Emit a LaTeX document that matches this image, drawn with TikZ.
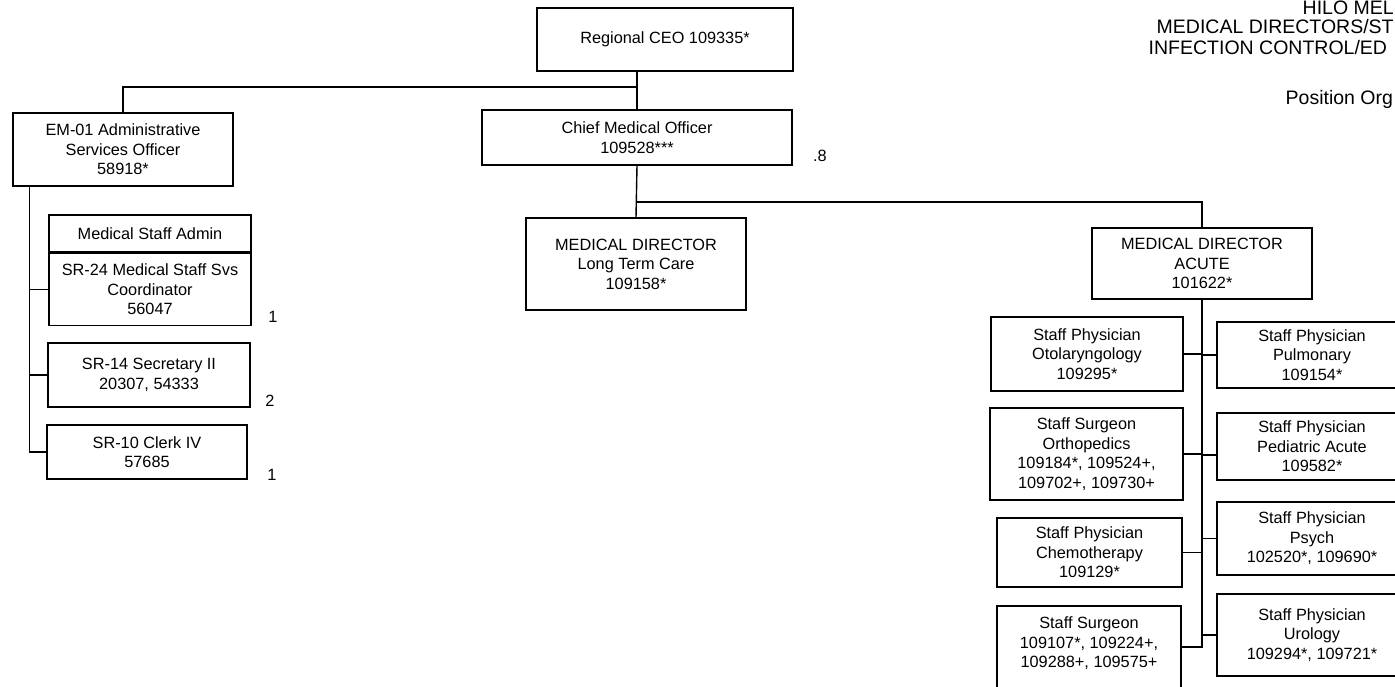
\documentclass[tikz,border=0pt]{standalone}
\usepackage{fontspec}
\setmainfont{Liberation Sans}
\usetikzlibrary{positioning,calc}

\begin{document}
\begin{tikzpicture}[x=1pt,y=-1pt,line width=1.4pt,
  box/.style={draw,align=center,inner sep=2pt,font=\fontsize{16.3}{19.5}\selectfont},
  staff/.style={box,minimum width=190pt},
  note/.style={inner sep=0pt,font=\fontsize{16.3}{19.5}\selectfont},
  head/.style={anchor=west,inner sep=0pt,font=\fontsize{19.5}{22}\selectfont}]
\useasboundingbox (0,0) rectangle (1395,687);
\clip (0,0) rectangle (1395,687);

\node[head] (title1) at (1302,8) {HILO MEL};
\node[head] (title2) at (1156,27) {MEDICAL DIRECTORS/ST};
\node[head] (title3) at (1148,48) {INFECTION CONTROL/ED};
\node[head] (title4) at (1285,99) {Position Org};

\node[box,minimum width=256pt,minimum height=63pt] (ceo) at (665,39.5) {Regional CEO 109335*};
\node[box,minimum width=310pt,minimum height=55pt] (cmo) at (637,137.5) {Chief Medical Officer\\109528***};
\node[box,minimum width=220pt,minimum height=92pt] (ltc) at (636,264) {MEDICAL DIRECTOR\\Long Term Care\\109158*};
\node[box,minimum width=220pt,minimum height=71pt] (acute) at (1202,263.5) {MEDICAL DIRECTOR\\ACUTE\\101622*};

\node[box,minimum width=220pt,minimum height=73pt] (aso) at (123,149.5) {EM-01 Administrative\\Services Officer\\58918*};
\node[box,minimum width=202pt,minimum height=37pt] (msahead) at (150,233.5) {Medical Staff Admin};
\node[box,minimum width=202pt,minimum height=72pt,below=0pt of msahead] (msa) {SR-24 Medical Staff Svs\\Coordinator\\56047};
\node[box,minimum width=202pt,minimum height=64pt] (sec) at (149,375) {SR-14 Secretary II\\20307, 54333};
\node[box,minimum width=200pt,minimum height=54pt] (clerk) at (147,452) {SR-10 Clerk IV\\57685};

\node[box,minimum width=192pt,minimum height=74pt] (oto) at (1087,354) {Staff Physician\\Otolaryngology\\109295*};
\node[box,minimum width=193pt,minimum height=92pt] (ortho) at (1086.5,454) {Staff Surgeon\\Orthopedics\\109184*, 109524+,\\109702+, 109730+};
\node[box,minimum width=185pt,minimum height=69pt] (chemo) at (1089.5,552.5) {Staff Physician\\Chemotherapy\\109129*};
\node[box,minimum width=184pt,minimum height=92pt] (surg) at (1089,652) {Staff Surgeon\\109107*, 109224+,\\109288+, 109575+\\\mbox{}};

\node[staff,minimum height=66pt] (pulm) at (1312,355) {Staff Physician\\Pulmonary\\109154*};
\node[staff,minimum height=67pt] (pedi) at (1312,446.5) {Staff Physician\\Pediatric Acute\\109582*};
\node[staff,minimum height=73pt] (psych) at (1312,538.5) {Staff Physician\\Psych\\102520*, 109690*};
\node[staff,minimum height=82pt] (uro) at (1312,635) {Staff Physician\\Urology\\109294*, 109721*};

\node[note] (fte1) at (273,317) {1};
\node[note] (fte2) at (270,401) {2};
\node[note] (fte3) at (272,475) {1};
\node[note] (fte4) at (820,156) {.8};

\draw (ceo.south -| cmo.north) -- (cmo.north);
\draw (aso.north) |- ($(ceo.south -| cmo.north)!0.41!(cmo.north)$);
\draw (cmo.south) -- (ltc.north);
\draw ($(cmo.south)!0.7!(ltc.north)$) -| (acute.north);

\coordinate (asofoot) at ([xshift=17pt]aso.south west);
\draw (asofoot) |- (clerk.west);
\draw (asofoot) |- (msa.west);
\draw (asofoot) |- (sec.west);

\draw (acute.south) |- ([yshift=5pt]surg.east);
\foreach \n in {oto,ortho,chemo} \draw (\n.east) -- (\n.east -| acute.south);
\foreach \n in {pulm,psych,uro} \draw (\n.west) -- (\n.west -| acute.south);
\draw ([yshift=-8.5pt]pedi.west) -- ([yshift=-8.5pt]pedi.west -| acute.south);
\end{tikzpicture}
\end{document}
